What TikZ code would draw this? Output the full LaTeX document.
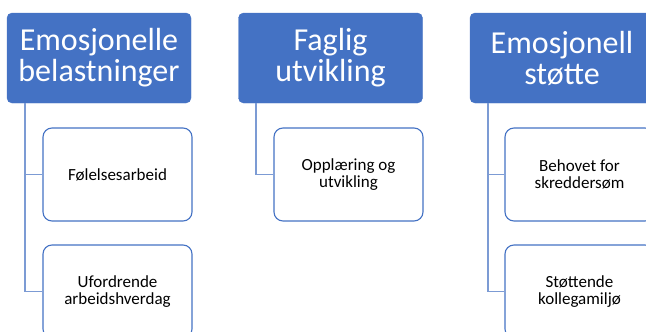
\documentclass[tikz,border=0pt]{standalone}
\usepackage{fontspec}
\setmainfont{Carlito}
\definecolor{acc}{HTML}{4472C4}
\definecolor{conn}{HTML}{7C9BD4}
\tikzset{
  head/.style={fill=acc, draw=acc, rounded corners=5pt, text=white, align=center,
    minimum width=184pt, minimum height=90pt, inner sep=0pt,
    font=\fontsize{32}{31}\selectfont},
  child/.style={fill=white, draw=acc, line width=1.1pt, rounded corners=9pt, align=center,
    minimum width=149pt, minimum height=93pt, inner sep=0pt,
    font=\fontsize{17}{17}\selectfont},
  link/.style={draw=conn, line width=1.2pt}
}
\begin{document}
\begin{tikzpicture}[x=1pt,y=-1pt]
\useasboundingbox (0,0) rectangle (646,332);
\clip (0,0) rectangle (646,332);
% column 1
\node[head] (h1) at (99,58) {Emosjonelle\\belastninger};
\node[child] (c11) at (117.5,174.5) {Følelsesarbeid};
\node[child] (c12) at (117.5,291.5) {Ufordrende\\arbeidshverdag};
\coordinate (t1) at (25,103);
\draw[link] (t1) |- (c11.west);
\draw[link] (t1) |- (c12.west);
% column 2
\node[head] (h2) at (330.5,58) {Faglig\\utvikling};
\node[child] (c21) at (348.5,174.5) {Opplæring og\\utvikling};
\coordinate (t2) at (256,103);
\draw[link] (t2) |- (c21.west);
% column 3
\node[head] (h3) at (562,58) {Emosjonell\\støtte};
\node[child] (c31) at (579.5,174.5) {Behovet for\\skreddersøm};
\node[child] (c32) at (579.5,291.5) {Støttende\\kollegamiljø};
\coordinate (t3) at (488,103);
\draw[link] (t3) |- (c31.west);
\draw[link] (t3) |- (c32.west);
\end{tikzpicture}
\end{document}
